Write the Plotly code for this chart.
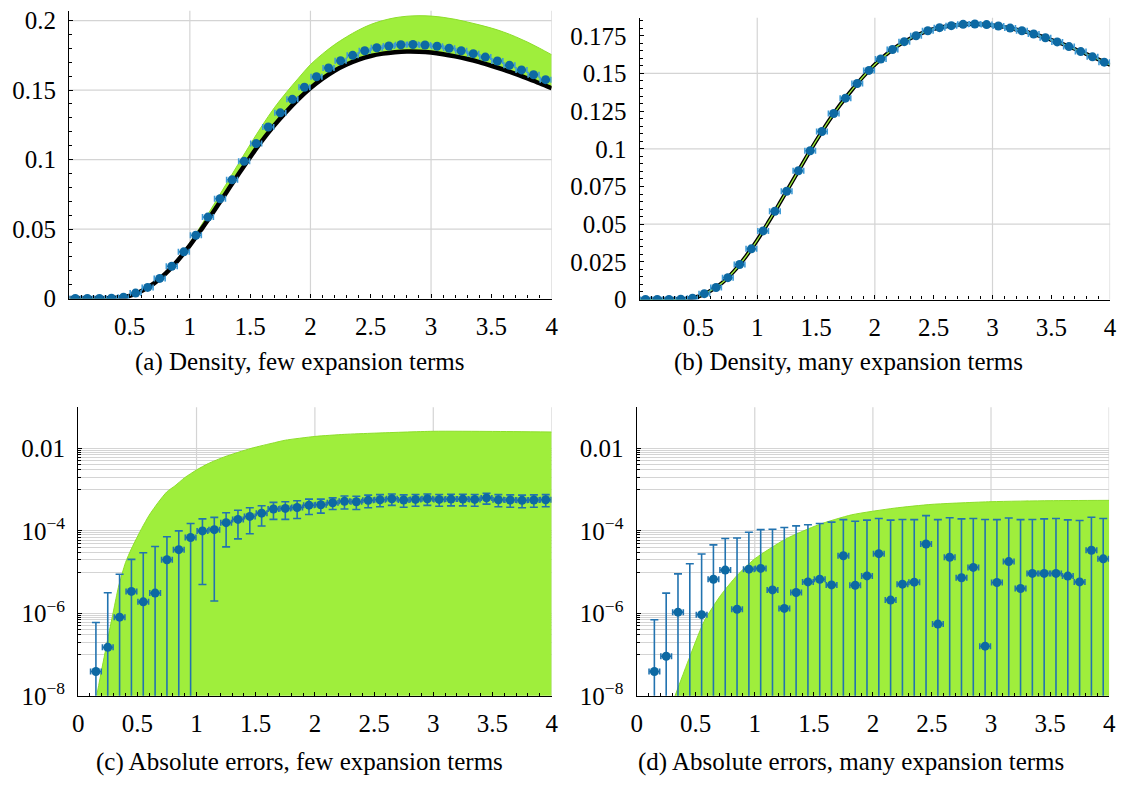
import plotly.graph_objects as go

# ---------------------------------------------------------------------------
# Data
# ---------------------------------------------------------------------------
# bin centres of the simulated histogram
bin_x = [0.05, 0.15, 0.25, 0.35, 0.45, 0.55, 0.65, 0.75, 0.85, 0.95,
         1.05, 1.15, 1.25, 1.35, 1.45, 1.55, 1.65, 1.75, 1.85, 1.95,
         2.05, 2.15, 2.25, 2.35, 2.45, 2.55, 2.65, 2.75, 2.85, 2.95,
         3.05, 3.15, 3.25, 3.35, 3.45, 3.55, 3.65, 3.75, 3.85, 3.95]

# simulated density (histogram estimate)
sim_density = [0.0000, 0.0000, 0.0000, 0.0002, 0.0009, 0.0039, 0.0080, 0.0145, 0.0232, 0.0336,
               0.0455, 0.0586, 0.0718, 0.0854, 0.0987, 0.1115, 0.1234, 0.1336, 0.1433, 0.1520,
               0.1596, 0.1659, 0.1711, 0.1750, 0.1783, 0.1804, 0.1817, 0.1826, 0.1828, 0.1824,
               0.1815, 0.1801, 0.1783, 0.1762, 0.1737, 0.1709, 0.1678, 0.1645, 0.1610, 0.1575]

# grid on which the series expansions are evaluated
curve_x = [0.0, 0.1, 0.2, 0.3, 0.4, 0.5, 0.6, 0.7, 0.8, 0.9,
           1.0, 1.1, 1.2, 1.3, 1.4, 1.5, 1.6, 1.7, 1.8, 1.9,
           2.0, 2.1, 2.2, 2.3, 2.4, 2.5, 2.6, 2.7, 2.8, 2.9,
           3.0, 3.1, 3.2, 3.3, 3.4, 3.5, 3.6, 3.7, 3.8, 3.9, 4.0]

# expansion with few terms and the upper edge of its error bound
approx_few = [0.0, 0.0, 0.0, 0.0001, 0.0005, 0.0019, 0.0055, 0.0107, 0.0181, 0.0274,
              0.0382, 0.0503, 0.0630, 0.0760, 0.0890, 0.1017, 0.1137, 0.1246, 0.1344, 0.1434,
              0.1514, 0.1582, 0.1639, 0.1684, 0.1719, 0.1745, 0.1762, 0.1772, 0.1777, 0.1776,
              0.1770, 0.1758, 0.1742, 0.1723, 0.1701, 0.1675, 0.1647, 0.1616, 0.1583, 0.1549, 0.1513]
bound_few = [0.0, 0.0, 0.0, 0.0001, 0.0006, 0.0021, 0.0059, 0.0114, 0.0192, 0.0289,
             0.0402, 0.0535, 0.0678, 0.0822, 0.0966, 0.1108, 0.1245, 0.1372, 0.1483, 0.1585,
             0.1683, 0.1760, 0.1827, 0.1883, 0.1932, 0.1972, 0.2000, 0.2020, 0.2031, 0.2035,
             0.2032, 0.2023, 0.2009, 0.1990, 0.1969, 0.1946, 0.1918, 0.1884, 0.1845, 0.1801, 0.1754]

# expansion with many terms
approx_many = [0.0, 0.0, 0.0, 0.0001, 0.0005, 0.0020, 0.0057, 0.0110, 0.0186, 0.0282,
               0.0394, 0.0520, 0.0652, 0.0786, 0.0921, 0.1052, 0.1176, 0.1287, 0.1386, 0.1478,
               0.1559, 0.1628, 0.1686, 0.1732, 0.1768, 0.1795, 0.1812, 0.1822, 0.1828, 0.1827,
               0.1820, 0.1808, 0.1792, 0.1773, 0.1750, 0.1723, 0.1694, 0.1662, 0.1628, 0.1593, 0.1557]

# absolute errors: bins from 0.15 on
err_x = bin_x[1:]

err_few = [3.9e-8, 1.5e-7, 8.1e-7, 3.4e-6, 1.9e-6, 3.1e-6, 2.0e-5, 3.5e-5, 6.9e-5,
           1.0e-4, 1.07e-4, 1.58e-4, 1.9e-4, 2.24e-4, 2.69e-4, 3.4e-4, 3.5e-4, 3.7e-4, 4.2e-4,
           4.3e-4, 4.8e-4, 5.2e-4, 5.1e-4, 5.5e-4, 5.7e-4, 6.0e-4, 5.6e-4, 5.8e-4, 6.0e-4,
           5.8e-4, 5.9e-4, 5.9e-4, 5.8e-4, 6.3e-4, 5.7e-4, 5.6e-4, 5.5e-4, 5.6e-4, 5.7e-4]
sd_few = [5.6e-7, 3.0e-6, 8.1e-6, 1.7e-5, 2.76e-5, 3.86e-5, 5.2e-5, 6.5e-5, 8.2e-5,
          9.5e-5, 1.05e-4, 1.17e-4, 1.26e-4, 1.39e-4, 1.38e-4, 1.5e-4, 1.6e-4, 1.7e-4, 1.7e-4,
          1.6e-4, 1.5e-4, 1.8e-4, 1.8e-4, 1.85e-4, 1.85e-4, 1.85e-4, 1.85e-4, 1.85e-4, 1.85e-4,
          1.85e-4, 1.85e-4, 1.85e-4, 1.85e-4, 1.85e-4, 1.85e-4, 1.85e-4, 1.85e-4, 1.85e-4, 1.85e-4]

err_many = [3.9e-8, 9.1e-8, 1.07e-6, 5.0e-9, 9.3e-7, 6.7e-6, 1.12e-5, 1.26e-6, 1.18e-5,
            1.23e-5, 3.7e-6, 1.32e-6, 3.2e-6, 5.8e-6, 6.7e-6, 4.9e-6, 2.5e-5, 4.8e-6, 8.1e-6,
            2.8e-5, 2.1e-6, 5.1e-6, 5.7e-6, 4.8e-5, 5.5e-7, 2.3e-5, 7.3e-6, 1.3e-5, 1.6e-7,
            5.6e-6, 1.8e-5, 4.0e-6, 9.3e-6, 9.3e-6, 9.3e-6, 8.0e-6, 5.8e-6, 3.4e-5, 2.1e-5]
sd_many = [6.6e-7, 3.0e-6, 8.0e-6, 1.6e-5, 2.66e-5, 3.9e-5, 5.4e-5, 6.6e-5, 8.1e-5,
           9.5e-5, 1.06e-4, 1.19e-4, 1.29e-4, 1.35e-4, 1.44e-4, 1.58e-4, 1.63e-4, 1.66e-4, 1.74e-4,
           1.72e-4, 1.8e-4, 1.83e-4, 1.82e-4, 1.86e-4, 1.87e-4, 1.86e-4, 1.88e-4, 1.87e-4, 1.88e-4,
           1.82e-4, 1.88e-4, 1.84e-4, 1.79e-4, 1.86e-4, 1.91e-4, 1.77e-4, 1.72e-4, 1.8e-4, 1.79e-4]

# error bounds of the expansions
bound_few_x = [0.158, 0.2, 0.255, 0.3, 0.34, 0.4, 0.452, 0.537, 0.6, 0.676, 0.75, 0.817, 0.9,
               1.0, 1.1, 1.24, 1.46, 1.66, 1.75, 2.0, 2.25, 2.5, 3.0, 3.5, 4.0]
bound_few_err = [1.05e-8, 4.5e-8, 2.8e-7, 1.2e-6, 4.3e-6, 1.7e-5, 3.8e-5, 1.15e-4, 2.4e-4, 4.9e-4,
                 8.9e-4, 1.23e-3, 1.95e-3, 3.0e-3, 4.3e-3, 6.3e-3, 1.0e-2, 1.38e-2, 1.58e-2,
                 1.95e-2, 2.19e-2, 2.34e-2, 2.6e-2, 2.58e-2, 2.5e-2]
bound_many_x = [0.325, 0.43, 0.57, 0.71, 0.85, 1.0, 1.26, 1.54, 1.82, 2.18, 2.5, 3.0, 3.5, 4.0]
bound_many_err = [1.0e-8, 6.3e-8, 6.3e-7, 2.7e-6, 8.3e-6, 2.1e-5, 6.3e-5, 1.41e-4, 2.45e-4,
                  3.55e-4, 4.4e-4, 5.1e-4, 5.4e-4, 5.5e-4]

# tick labels
x_tick_vals = [0, 0.5, 1, 1.5, 2, 2.5, 3, 3.5, 4]
x_tick_text = ["0", "0.5", "1", "1.5", "2", "2.5", "3", "3.5", "4"]
y_tick_vals_a = [0, 0.05, 0.1, 0.15, 0.2]
y_tick_text_a = ["0", "0.05", "0.1", "0.15", "0.2"]
y_tick_vals_b = [0, 0.025, 0.05, 0.075, 0.1, 0.125, 0.15, 0.175]
y_tick_text_b = ["0", "0.025", "0.05", "0.075", "0.1", "0.125", "0.15", "0.175"]
y_tick_vals_log = [1e-8, 1e-6, 1e-4, 1e-2]
y_tick_text_log = ["10<sup>−8</sup>", "10<sup>−6</sup>", "10<sup>−4</sup>", "0.01"]

captions = ["(a) Density, few expansion terms",
            "(b) Density, many expansion terms",
            "(c) Absolute errors, few expansion terms",
            "(d) Absolute errors, many expansion terms"]

# ---------------------------------------------------------------------------
# Styling
# ---------------------------------------------------------------------------
W, H = 1128, 794
FONT = "Liberation Serif"
FS = 25
GREEN = "#9fee3c"
GREEN_EDGE = "#8ddd2c"
BLUE = "#0d69a3"
BAR_TOP = "#3f9bd6"
BAR_BOT = "#2273b0"
GRID = "#d4d4d4"


def dom_x(left, right):
    return [left / W, right / W]


def dom_y(top, bottom):
    return [1 - bottom / H, 1 - top / H]


def common_axis():
    return dict(ticks="inside", ticklen=4, tickwidth=1, tickcolor="black",
                zeroline=False, showline=True, linecolor="black", linewidth=1.3,
                tickfont=dict(family=FONT, size=FS, color="black"))


def x_axis(domain, anchor, show_zero):
    vals = x_tick_vals if show_zero else x_tick_vals[1:]
    text = x_tick_text if show_zero else x_tick_text[1:]
    ax = common_axis()
    ax.update(domain=domain, anchor=anchor, range=[0, 4],
              tickmode="array", tickvals=vals, ticktext=text,
              showgrid=False, ticklabelstandoff=5,
              minor=dict(tick0=0, dtick=0.1, ticks="inside", ticklen=3,
                         tickcolor="black", showgrid=False))
    return ax


def y_lin_axis(domain, anchor, top, vals, text, minor_step):
    ax = common_axis()
    ax.update(domain=domain, anchor=anchor, range=[0, top],
              tickmode="array", tickvals=vals, ticktext=text,
              showgrid=False, ticklabelstandoff=7,
              minor=dict(tick0=0, dtick=minor_step, ticks="inside", ticklen=3,
                         tickcolor="black", showgrid=False))
    return ax


def y_log_axis(domain, anchor):
    # light lines in the upper decade of each labelled two-decade step
    minor_vals = []
    for e in (-7, -5, -3):
        minor_vals += [k * 10.0 ** e for k in range(1, 10)]
    ax = common_axis()
    ax.update(domain=domain, anchor=anchor, type="log", range=[-8, -1],
              tickmode="array", tickvals=y_tick_vals_log, ticktext=y_tick_text_log,
              showgrid=True, gridcolor=GRID, gridwidth=1.2, ticklabelstandoff=7,
              minor=dict(tickmode="array", tickvals=minor_vals, ticks="inside", ticklen=3,
                         tickcolor="black", showgrid=True, gridcolor=GRID, gridwidth=1.2))
    return ax


fig = go.Figure()

# ---------------- (a) density, few terms ----------------
fig.add_trace(go.Scatter(x=curve_x, y=approx_few, xaxis="x", yaxis="y", mode="lines",
                         line=dict(width=0, shape="spline"), showlegend=False, hoverinfo="skip"))
fig.add_trace(go.Scatter(x=curve_x, y=bound_few, xaxis="x", yaxis="y", mode="lines",
                         fill="tonexty", fillcolor=GREEN,
                         line=dict(width=1, color=GREEN_EDGE, shape="spline"), showlegend=False))
fig.add_trace(go.Scatter(x=curve_x, y=approx_few, xaxis="x", yaxis="y", mode="lines",
                         line=dict(width=4.5, color="black", shape="spline"), showlegend=False))
fig.add_trace(go.Scatter(x=bin_x, y=sim_density, xaxis="x", yaxis="y", mode="markers",
                         marker=dict(size=9, color=BLUE),
                         error_x=dict(type="constant", value=0.045, color=BAR_TOP, thickness=1.6, width=3),
                         showlegend=False))

# ---------------- (b) density, many terms ----------------
fig.add_trace(go.Scatter(x=curve_x, y=approx_many, xaxis="x2", yaxis="y2", mode="lines",
                         line=dict(width=4, color="black", shape="spline"), showlegend=False))
fig.add_trace(go.Scatter(x=curve_x, y=approx_many, xaxis="x2", yaxis="y2", mode="lines",
                         line=dict(width=1.3, color=GREEN, shape="spline"), showlegend=False))
fig.add_trace(go.Scatter(x=bin_x, y=sim_density, xaxis="x2", yaxis="y2", mode="markers",
                         marker=dict(size=9, color=BLUE),
                         error_x=dict(type="constant", value=0.045, color=BAR_TOP, thickness=1.6, width=3),
                         showlegend=False))

# ---------------- (c) absolute errors, few terms ----------------
fig.add_trace(go.Scatter(x=bound_few_x, y=bound_few_err, xaxis="x3", yaxis="y3", mode="lines",
                         fill="tozeroy", fillcolor=GREEN,
                         line=dict(width=1, color=GREEN_EDGE, shape="spline", smoothing=0.6),
                         showlegend=False))
fig.add_trace(go.Scatter(x=err_x, y=err_few, xaxis="x3", yaxis="y3", mode="markers",
                         marker=dict(size=9, color=BLUE),
                         error_x=dict(type="constant", value=0.045, color=BAR_BOT, thickness=1.6, width=3),
                         error_y=dict(type="data", array=sd_few, color=BAR_BOT, thickness=1.6, width=4),
                         showlegend=False))

# ---------------- (d) absolute errors, many terms ----------------
fig.add_trace(go.Scatter(x=bound_many_x, y=bound_many_err, xaxis="x4", yaxis="y4", mode="lines",
                         fill="tozeroy", fillcolor=GREEN,
                         line=dict(width=1, color=GREEN_EDGE, shape="spline", smoothing=0.6),
                         showlegend=False))
fig.add_trace(go.Scatter(x=err_x, y=err_many, xaxis="x4", yaxis="y4", mode="markers",
                         marker=dict(size=9, color=BLUE),
                         error_x=dict(type="constant", value=0.045, color=BAR_BOT, thickness=1.6, width=3),
                         error_y=dict(type="data", array=sd_many, color=BAR_BOT, thickness=1.6, width=4),
                         showlegend=False))

fig.update_layout(
    width=W, height=H, autosize=False,
    margin=dict(l=0, r=0, t=0, b=0),
    paper_bgcolor="white", plot_bgcolor="white",
    font=dict(family=FONT, size=FS, color="black"),
    xaxis=x_axis(dom_x(64, 552), "y", False),
    yaxis=y_lin_axis(dom_y(8, 302), "x", 0.207, y_tick_vals_a, y_tick_text_a, 0.01),
    xaxis2=x_axis(dom_x(641, 1117), "y2", False),
    yaxis2=y_lin_axis(dom_y(15, 303), "x2", 0.187, y_tick_vals_b, y_tick_text_b, 0.005),
    xaxis3=x_axis(dom_x(73, 552), "y3", True),
    yaxis3=y_log_axis(dom_y(413, 708), "x3"),
    xaxis4=x_axis(dom_x(638, 1116), "y4", True),
    yaxis4=y_log_axis(dom_y(413, 708), "x4"),
)

# grid lines at the integer x positions and at the y steps of 0.05 (drawn beneath the data)
grid_style = dict(color=GRID, width=1.2)
for xa, ya in (("x", "y"), ("x2", "y2"), ("x3", "y3"), ("x4", "y4")):
    for gx in (1, 2, 3, 4):
        fig.add_shape(type="line", xref=xa, yref=ya + " domain", x0=gx, x1=gx, y0=0, y1=1,
                      layer="below", line=grid_style)
for ya, xa, levels in (("y", "x", (0.05, 0.1, 0.15, 0.2)), ("y2", "x2", (0.05, 0.1, 0.15))):
    for gy in levels:
        fig.add_shape(type="line", xref=xa + " domain", yref=ya, x0=0, x1=1, y0=gy, y1=gy,
                      layer="below", line=grid_style)

caption_pos = [(297, 367), (852, 367), (297, 776), (855, 776)]
for text, (cx, cy) in zip(captions, caption_pos):
    fig.add_annotation(text=text, x=cx / W, y=1 - cy / H, xref="paper", yref="paper",
                       showarrow=False, xanchor="center", yanchor="middle",
                       font=dict(family=FONT, size=FS, color="black"))

fig.write_html("out.html")
